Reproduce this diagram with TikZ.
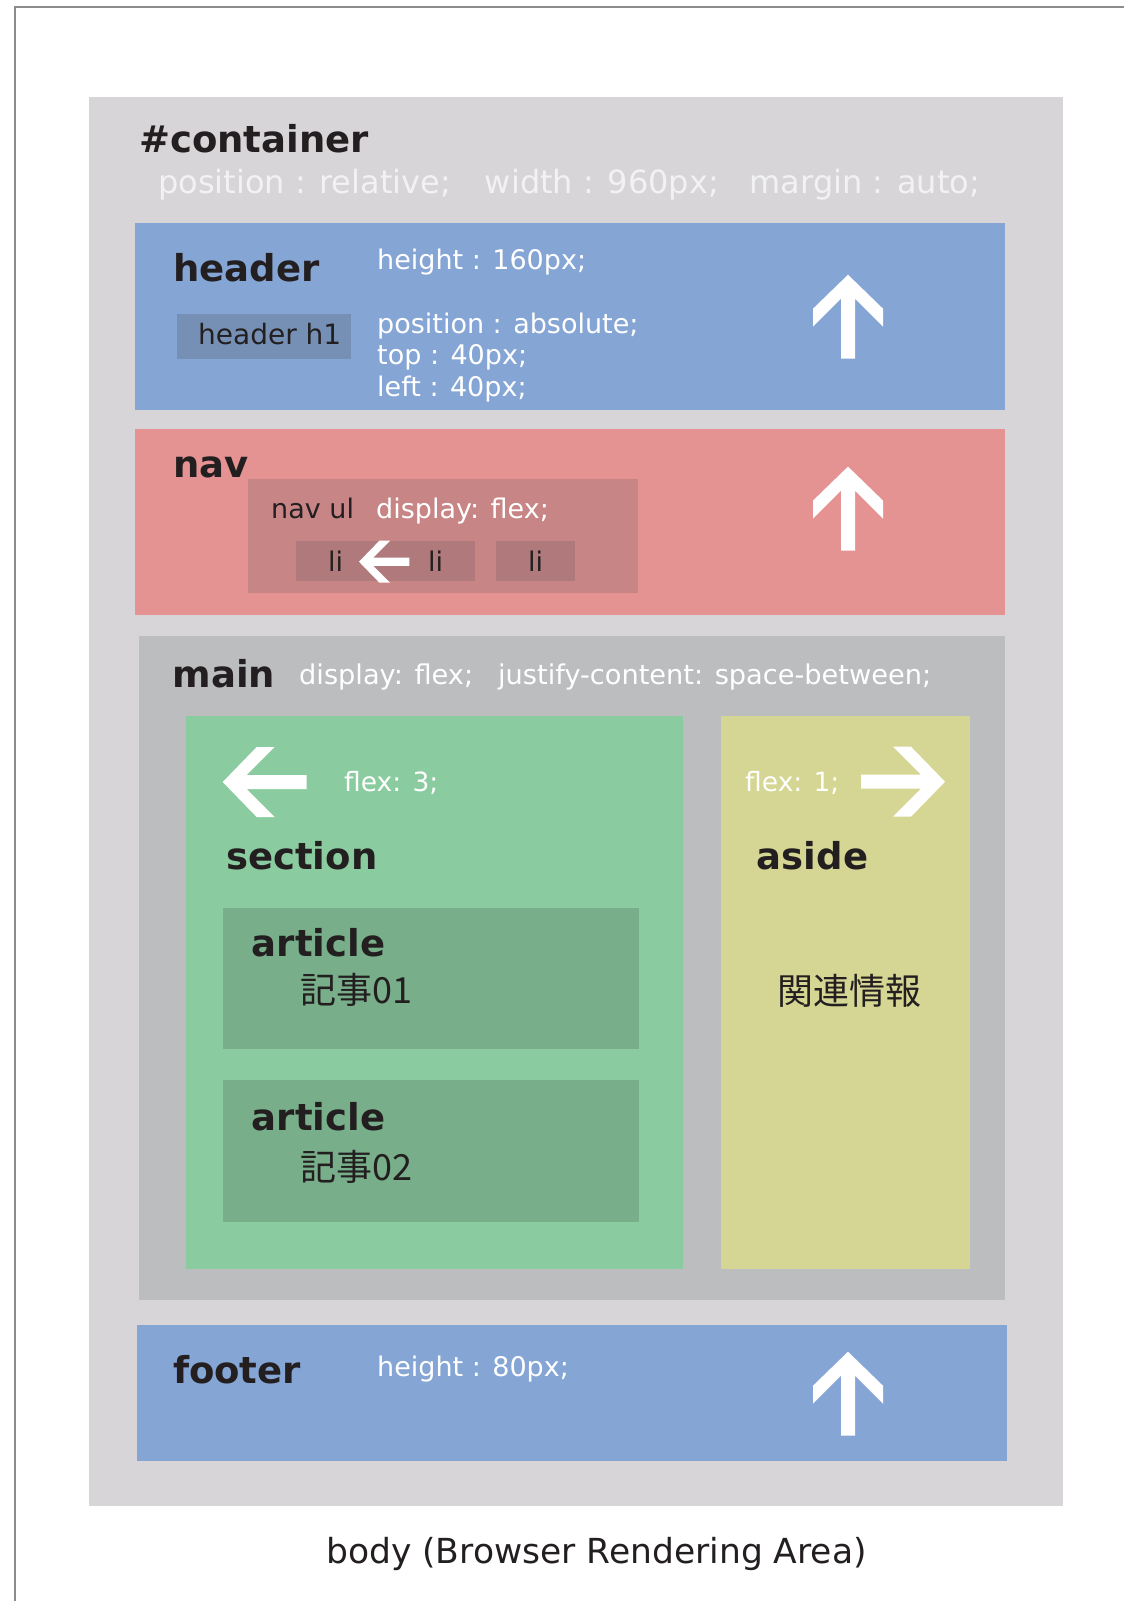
\documentclass[tikz,border=0pt]{standalone}
\usepackage{fontspec}
\setmainfont{DejaVu Sans}
\newfontfamily\jpfont{Noto Sans CJK JP}
\usetikzlibrary{positioning}

\definecolor{frame}{HTML}{8C8C8C}
\definecolor{contgray}{HTML}{D7D5D8}
\definecolor{maingray}{HTML}{BCBDBF}
\definecolor{hdrblue}{HTML}{85A5D5}
\definecolor{h1blue}{HTML}{7690B5}
\definecolor{navpink}{HTML}{E49292}
\definecolor{ulpink}{HTML}{C88585}
\definecolor{lipink}{HTML}{B0797B}
\definecolor{secgreen}{HTML}{8ACC9F}
\definecolor{artgreen}{HTML}{78AF8A}
\definecolor{asideyel}{HTML}{D5D693}
\definecolor{ink}{HTML}{231F20}

\newcommand{\tagfont}{\bfseries\fontsize{37}{40}\selectfont}
\newcommand{\propfont}{\fontsize{27}{30}\selectfont}

\tikzset{
  blk/.style={fill=#1, inner sep=0, outer sep=0, anchor=north west},
  tag/.style={anchor=base west, inner sep=0, text=ink, font=\tagfont},
  prop/.style={anchor=base west, inner sep=0, text=white, font=\propfont},
  jp/.style={anchor=base west, inner sep=0, text=ink, font=\jpfont\fontsize{36}{40}\selectfont},
  flexarrow/.pic={\fill[white] (0,0) -- (35,34) -- (35,52) -- (7,24) -- (7,84) -- (-7,84) -- (-7,24) -- (-35,52) -- (-35,34) -- cycle;}
}

\begin{document}
\begin{tikzpicture}[x=1pt, y=-1pt]
  \useasboundingbox (0,0) rectangle (1124,1601);
  % body frame
  \draw[frame, line width=2pt] (15,1601) -- (15,6.7) -- (1124,6.7);

  % #container
  \node[blk=contgray, minimum width=973.7pt, minimum height=1408.7pt] (cont) at (89,97) {};
  \node[tag] (contT) at (139,152) {\#container};
  \node[prop, font=\fontsize{32}{36}\selectfont, text=white!95!black] (contP) at (158,193)
    {position : relative;\hspace{34pt}width : 960px;\hspace{31pt}margin : auto;};

  % header
  \node[blk=hdrblue, minimum width=870pt, minimum height=187pt] (hdr) at (135,223) {};
  \node[tag] (hdrT) at (173,281) {header};
  \node[blk=h1blue, minimum width=174pt, minimum height=45pt] (hdrH1) at (177,314) {};
  \node[prop, text=ink, font=\fontsize{28}{30}\selectfont] (hdrH1T) at (198,344) {header h1};
  \node[prop] (hdrHeight) at (377,269) {height : 160px;};
  \node[prop] (hdrPos) at (377,333) {position : absolute;};
  \node[prop] (hdrTop) at (377,364.5) {top : 40px;};
  \node[prop] (hdrLeft) at (377,396) {left : 40px;};

  % nav
  \node[blk=navpink, minimum width=870pt, minimum height=186pt] (nav) at (135,429) {};
  \node[tag] (navT) at (173,477) {nav};
  \node[blk=ulpink, minimum width=390pt, minimum height=114pt] (navUl) at (248,479) {};
  \node[prop, text=ink] (navUlT) at (271,518) {nav ul};
  \node[prop] (navUlFlex) at (376,518) {display: flex;};
  \foreach \n/\x in {1/296, 2/396, 3/496}
    \node[blk=lipink, minimum width=79pt, minimum height=40pt, font=\propfont, text=ink] (li\n) at (\x,541) {li};
  \fill[lipink] (li1.north east) rectangle (li2.south west);
  \pic[scale=0.6, rotate=90] at (359,561.7) {flexarrow};

  % main
  \node[blk=maingray, minimum width=866pt, minimum height=664pt] (main) at (139,636) {};
  \node[tag] (mainT) at (172.5,687) {main};
  \node[prop, font=\fontsize{27.2}{30}\selectfont] (mainFlex) at (299,684)
    {display: flex;\hspace{25pt}justify-content: space-between;};

  % section
  \node[blk=secgreen, minimum width=497pt, minimum height=553pt] (sec) at (186,716) {};
  \pic[rotate=90] at (222.7,782) {flexarrow};
  \node[prop, font=\fontsize{26.5}{30}\selectfont] (secFlex) at (344,791) {flex: 3;};
  \node[tag] (secT) at (226,869.6) {section};
  \node[blk=artgreen, minimum width=416pt, minimum height=141pt] (art1) at (223,908) {};
  \node[tag] (art1T) at (251.7,956) {article};
  \node[jp] (art1Jp) at (300.7,1003) {記事01};
  \node[blk=artgreen, minimum width=416pt, minimum height=142pt] (art2) at (223,1080) {};
  \node[tag] (art2T) at (251.7,1130.4) {article};
  \node[jp] (art2Jp) at (300.7,1180.5) {記事02};

  % aside
  \node[blk=asideyel, minimum width=249pt, minimum height=553pt] (aside) at (721,716) {};
  \pic[rotate=-90] at (945,781.7) {flexarrow};
  \node[prop, font=\fontsize{26.5}{30}\selectfont] (asideFlex) at (745,791.7) {flex: 1;};
  \node[tag] (asideT) at (756.7,869) {aside};
  \node[jp] (asideJp) at (777,1004) {関連情報};

  % footer
  \node[blk=hdrblue, minimum width=870pt, minimum height=136pt] (ftr) at (137,1325) {};
  \node[tag] (ftrT) at (172.8,1383) {footer};
  \node[prop] (ftrHeight) at (377,1376) {height : 80px;};

  % up arrows
  \foreach \y in {274.7, 466.6, 1351.7}
    \pic at (848,\y) {flexarrow};

  \node[prop, text=ink, font=\fontsize{34.5}{38}\selectfont] (bodyT) at (326,1563) {body (Browser Rendering Area)};
\end{tikzpicture}
\end{document}
